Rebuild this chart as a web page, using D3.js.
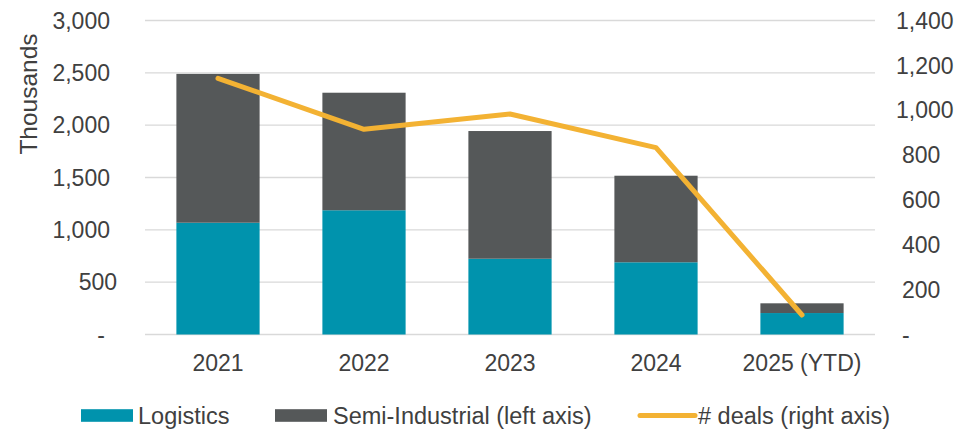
<!DOCTYPE html>
<html>
<head>
<meta charset="utf-8">
<script src="https://cdn.jsdelivr.net/npm/d3@7"></script>
<style>
  html, body { margin: 0; padding: 0; background: #fff; }
  svg { display: block; font-family: "Liberation Sans", Arial, sans-serif; }
</style>
</head>
<body>
<svg id="chart" width="957" height="430"></svg>
<script>
const years = ["2021", "2022", "2023", "2024", "2025 (YTD)"];
const logistics = [1068, 1187, 724, 690, 205];
const semiIndustrial = [1422, 1123, 1220, 827, 93];
const deals = [1142, 915, 983, 833, 87];
const leftTicks = [0, 500, 1000, 1500, 2000, 2500, 3000];
const rightTicks = [0, 200, 400, 600, 800, 1000, 1200, 1400];

const colors = { logistics: "#0093AD", semi: "#555859", deals: "#F3B233", grid: "#D9D9D9", text: "#404040" };

const svg = d3.select("#chart");
const W = 957, H = 430;
const plot = { left: 145, right: 875, top: 20.5, bottom: 334.5 };

const x = d3.scaleBand().domain(years).range([plot.left, plot.right]).paddingInner(0.43).paddingOuter(0.215);
const yL = d3.scaleLinear().domain([0, 3000]).range([plot.bottom, plot.top]);
const yR = d3.scaleLinear().domain([0, 1400]).range([plot.bottom, plot.top]);

const fmt = v => v === 0 ? "-" : d3.format(",")(v);

// gridlines
svg.append("g").selectAll("line").data(leftTicks).join("line")
  .attr("x1", plot.left).attr("x2", plot.right)
  .attr("y1", d => yL(d)).attr("y2", d => yL(d))
  .attr("stroke", colors.grid).attr("stroke-width", 1.3);

// stacked bars
const stackData = years.map((y, i) => ({ year: y, logistics: logistics[i], semi: semiIndustrial[i] }));
const stack = d3.stack().keys(["logistics", "semi"])(stackData);
const fillFor = { logistics: colors.logistics, semi: colors.semi };
svg.append("g").selectAll("g").data(stack).join("g")
  .attr("fill", d => fillFor[d.key])
  .selectAll("rect").data(d => d).join("rect")
  .attr("x", d => x(d.data.year))
  .attr("width", x.bandwidth())
  .attr("y", d => yL(d[1]))
  .attr("height", d => yL(d[0]) - yL(d[1]));

// line
const line = d3.line().x((d, i) => x(years[i]) + x.bandwidth() / 2).y(d => yR(d));
svg.append("path").datum(deals)
  .attr("d", line)
  .attr("fill", "none")
  .attr("stroke", colors.deals)
  .attr("stroke-width", 5)
  .attr("stroke-linejoin", "round")
  .attr("stroke-linecap", "round");

// left axis labels
const tickFont = 23;
svg.append("g").selectAll("text").data(leftTicks).join("text")
  .attr("x", d => d === 0 ? 105 : (d >= 1000 ? 110 : 117))
  .attr("y", d => yL(d))
  .attr("dy", "0.36em")
  .attr("text-anchor", "end")
  .attr("font-size", tickFont)
  .attr("fill", colors.text)
  .text(fmt);

// right axis labels
svg.append("g").selectAll("text").data(rightTicks).join("text")
  .attr("x", d => d >= 1000 ? 896 : 902)
  .attr("y", d => yR(d))
  .attr("dy", "0.36em")
  .attr("text-anchor", "start")
  .attr("font-size", tickFont)
  .attr("fill", colors.text)
  .text(fmt);

// x axis labels
svg.append("g").selectAll("text").data(years).join("text")
  .attr("x", d => x(d) + x.bandwidth() / 2)
  .attr("y", 363)
  .attr("dy", "0.36em")
  .attr("text-anchor", "middle")
  .attr("font-size", tickFont)
  .attr("fill", colors.text)
  .text(d => d);

// axis title
svg.append("text")
  .attr("transform", "translate(28,94) rotate(-90)")
  .attr("dy", "0.36em")
  .attr("text-anchor", "middle")
  .attr("font-size", 24.5)
  .attr("fill", colors.text)
  .text("Thousands");

// legend
const legendY = 415.5;
const legend = [
  { label: "Logistics", type: "rect", color: colors.logistics, sx: 81, tx: 138 },
  { label: "Semi-Industrial (left axis)", type: "rect", color: colors.semi, sx: 275, tx: 333 },
  { label: "# deals (right axis)", type: "line", color: colors.deals, sx: 640, tx: 698 }
];
const lg = svg.append("g");
legend.forEach(l => {
  if (l.type === "rect") {
    lg.append("rect").attr("x", l.sx).attr("y", legendY - 6.3).attr("width", 52).attr("height", 12.6).attr("fill", l.color);
  } else {
    lg.append("line").attr("x1", l.sx).attr("x2", l.sx + 55).attr("y1", legendY).attr("y2", legendY)
      .attr("stroke", l.color).attr("stroke-width", 5).attr("stroke-linecap", "round");
  }
  lg.append("text").attr("x", l.tx).attr("y", legendY).attr("dy", "0.36em")
    .attr("font-size", 23.5).attr("fill", colors.text).text(l.label);
});
</script>
</body>
</html>
